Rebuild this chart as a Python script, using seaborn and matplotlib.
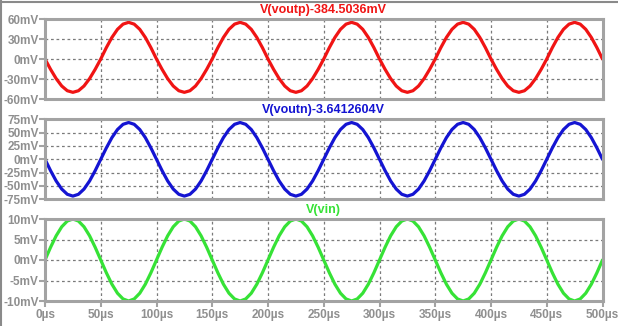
import matplotlib
matplotlib.use("Agg")
import matplotlib.pyplot as plt
from matplotlib.lines import Line2D
import seaborn as sns
import pandas as pd

# ---- data (time in µs, voltages in mV) ----
time_us = [0, 5, 10, 15, 20, 25, 30, 35, 40, 45, 50, 55, 60, 65, 70, 75, 80, 85, 90, 95,
           100, 105, 110, 115, 120, 125, 130, 135, 140, 145, 150, 155, 160, 165, 170, 175, 180, 185, 190, 195,
           200, 205, 210, 215, 220, 225, 230, 235, 240, 245, 250, 255, 260, 265, 270, 275, 280, 285, 290, 295,
           300, 305, 310, 315, 320, 325, 330, 335, 340, 345, 350, 355, 360, 365, 370, 375, 380, 385, 390, 395,
           400, 405, 410, 415, 420, 425, 430, 435, 440, 445, 450, 455, 460, 465, 470, 475, 480, 485, 490, 495,
           500]

voutp_mV = [0, -15.5, -29.4, -40.5, -47.6, -50.0, -47.6, -40.5, -29.4, -15.5,
            0, 17.0, 32.3, 44.5, 52.3, 55.0, 52.3, 44.5, 32.3, 17.0,
            0, -15.5, -29.4, -40.5, -47.6, -50.0, -47.6, -40.5, -29.4, -15.5,
            0, 17.0, 32.3, 44.5, 52.3, 55.0, 52.3, 44.5, 32.3, 17.0,
            0, -15.5, -29.4, -40.5, -47.6, -50.0, -47.6, -40.5, -29.4, -15.5,
            0, 17.0, 32.3, 44.5, 52.3, 55.0, 52.3, 44.5, 32.3, 17.0,
            0, -15.5, -29.4, -40.5, -47.6, -50.0, -47.6, -40.5, -29.4, -15.5,
            0, 17.0, 32.3, 44.5, 52.3, 55.0, 52.3, 44.5, 32.3, 17.0,
            0, -15.5, -29.4, -40.5, -47.6, -50.0, -47.6, -40.5, -29.4, -15.5,
            0, 17.0, 32.3, 44.5, 52.3, 55.0, 52.3, 44.5, 32.3, 17.0,
            0]

voutn_mV = [0, -21.3, -40.6, -55.8, -65.6, -69.0, -65.6, -55.8, -40.6, -21.3,
            0, 21.3, 40.6, 55.8, 65.6, 69.0, 65.6, 55.8, 40.6, 21.3,
            0, -21.3, -40.6, -55.8, -65.6, -69.0, -65.6, -55.8, -40.6, -21.3,
            0, 21.3, 40.6, 55.8, 65.6, 69.0, 65.6, 55.8, 40.6, 21.3,
            0, -21.3, -40.6, -55.8, -65.6, -69.0, -65.6, -55.8, -40.6, -21.3,
            0, 21.3, 40.6, 55.8, 65.6, 69.0, 65.6, 55.8, 40.6, 21.3,
            0, -21.3, -40.6, -55.8, -65.6, -69.0, -65.6, -55.8, -40.6, -21.3,
            0, 21.3, 40.6, 55.8, 65.6, 69.0, 65.6, 55.8, 40.6, 21.3,
            0, -21.3, -40.6, -55.8, -65.6, -69.0, -65.6, -55.8, -40.6, -21.3,
            0, 21.3, 40.6, 55.8, 65.6, 69.0, 65.6, 55.8, 40.6, 21.3,
            0]

vin_mV = [0, 3.1, 5.9, 8.1, 9.5, 10.0, 9.5, 8.1, 5.9, 3.1,
          0, -3.1, -5.9, -8.1, -9.5, -10.0, -9.5, -8.1, -5.9, -3.1,
          0, 3.1, 5.9, 8.1, 9.5, 10.0, 9.5, 8.1, 5.9, 3.1,
          0, -3.1, -5.9, -8.1, -9.5, -10.0, -9.5, -8.1, -5.9, -3.1,
          0, 3.1, 5.9, 8.1, 9.5, 10.0, 9.5, 8.1, 5.9, 3.1,
          0, -3.1, -5.9, -8.1, -9.5, -10.0, -9.5, -8.1, -5.9, -3.1,
          0, 3.1, 5.9, 8.1, 9.5, 10.0, 9.5, 8.1, 5.9, 3.1,
          0, -3.1, -5.9, -8.1, -9.5, -10.0, -9.5, -8.1, -5.9, -3.1,
          0, 3.1, 5.9, 8.1, 9.5, 10.0, 9.5, 8.1, 5.9, 3.1,
          0, -3.1, -5.9, -8.1, -9.5, -10.0, -9.5, -8.1, -5.9, -3.1,
          0]

titles = ["V(voutp)-384.5036mV", "V(voutn)-3.6412604V", "V(vin)"]
yticks_p = [-60, -30, 0, 30, 60]
yticks_n = [-75, -50, -25, 0, 25, 50, 75]
yticks_in = [-10, -5, 0, 5, 10]
xticks = [0, 50, 100, 150, 200, 250, 300, 350, 400, 450, 500]

# ---- styling ----
sns.set_theme(style="white")
plt.rcParams["font.family"] = ["Liberation Sans", "DejaVu Sans"]

W, H = 618, 326
DPI = 100
fig = plt.figure(figsize=(W / DPI, H / DPI), dpi=DPI)
fig.patch.set_facecolor("white")

frame_col = "#a3a3a3"
text_col = "#8f8f8f"
grid_col = "#7a7a7a"
colors = ["#f01414", "#1414d2", "#36e236"]

def px_rect(left, top, right, bottom):
    return [left / W, 1 - bottom / H, (right - left) / W, (bottom - top) / H]

rects = [px_rect(45, 19, 602.5, 99),
         px_rect(45, 119.3, 602.5, 199.3),
         px_rect(45, 219, 602.5, 301)]
series = [voutp_mV, voutn_mV, vin_mV]
yticks_all = [yticks_p, yticks_n, yticks_in]

for i in range(3):
    ax = fig.add_axes(rects[i])
    df = pd.DataFrame({"t": time_us, "v": series[i]})
    sns.lineplot(data=df, x="t", y="v", ax=ax, color=colors[i], linewidth=2.3,
                 estimator=None, sort=False)
    yt = yticks_all[i]
    ax.set_xlim(0, 500)
    ax.set_ylim(yt[0], yt[-1])
    ax.set_yticks(yt)
    ax.set_yticklabels([f"{v}mV" for v in yt])
    ax.set_xticks(xticks)
    ax.set_xlabel("")
    ax.set_ylabel("")
    for s in ax.spines.values():
        s.set_color(frame_col)
        s.set_linewidth(2.2)
    ax.grid(True, color=grid_col, linestyle=(0, (2.2, 2.2)), linewidth=0.9)
    ax.tick_params(axis="y", which="both", left=True, length=4, width=1.5,
                   color=frame_col, labelcolor=text_col, labelsize=8.5, pad=0.5)
    for lab in ax.get_yticklabels():
        lab.set_fontweight("bold")
    if i == 2:
        ax.set_xticklabels([f"{v}µs" for v in xticks])
        ax.tick_params(axis="x", bottom=True, length=4, width=1.5,
                       color=frame_col, labelcolor=text_col, labelsize=8.5, pad=2)
        for lab in ax.get_xticklabels():
            lab.set_fontweight("bold")
    else:
        ax.tick_params(axis="x", bottom=False, labelbottom=False)
    ax.annotate(titles[i], xy=(0.5, 1), xycoords="axes fraction",
                xytext=(0, 6.5), textcoords="offset points",
                ha="center", va="center", color=colors[i],
                fontsize=9, fontweight="bold")

# outer frame lines (top and left)
fig.add_artist(Line2D([0, 1], [1 - 2 / H, 1 - 2 / H], transform=fig.transFigure,
                      color="#8a8a8a", linewidth=1.5))
fig.add_artist(Line2D([1.2 / W, 1.2 / W], [0, 1], transform=fig.transFigure,
                      color="#8a8a8a", linewidth=1.5))

fig.savefig("out.png", dpi=DPI, facecolor="white")
